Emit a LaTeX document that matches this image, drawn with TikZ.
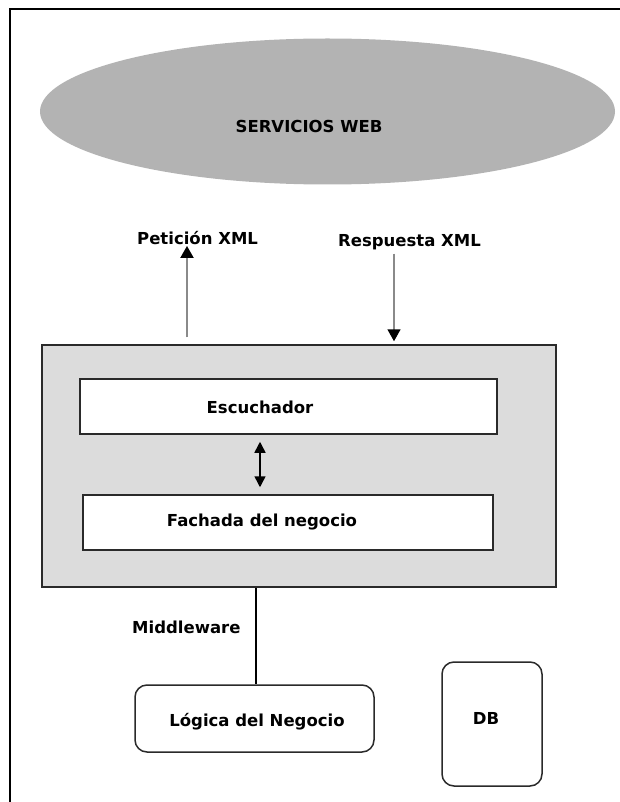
\documentclass[tikz,border=0pt]{standalone}
\usepackage{fontspec}
\setmainfont{DejaVu Sans}
\usetikzlibrary{shapes.geometric,arrows.meta}
\definecolor{ellgray}{HTML}{B3B3B3}
\definecolor{boxgray}{HTML}{DCDCDC}
\definecolor{edge}{HTML}{2A2A2A}
\definecolor{stem}{HTML}{8A8A8A}
\tikzset{
  lbl/.style={font=\fontsize{16.5}{19}\selectfont\bfseries, text=black, inner sep=0pt},
  plainbox/.style={draw=edge, line width=1.5pt, fill=white, inner sep=0pt},
  roundbox/.style={draw=edge, line width=1.5pt, fill=white, rounded corners=12pt, inner sep=0pt},
  headtip/.style={-{Triangle[width=13pt,length=12pt,color=black]}},
}
\begin{document}
\begin{tikzpicture}[x=1pt,y=-1pt]
\useasboundingbox (0,0) rectangle (620,802);
% frame
\draw[line width=2pt, black] (620,9) -- (10,9) -- (10,802);
% web services ellipse
\node[ellipse, fill=ellgray, draw=none, minimum width=575pt, minimum height=146pt, inner sep=0pt] (ws) at (327.5,111.5) {};
\node[lbl] (wst) at (309,126) {SERVICIOS WEB};
% middleware box
\node[draw=edge, line width=1.5pt, fill=boxgray, minimum width=514pt, minimum height=242pt, inner sep=0pt] (mw) at (299,466) {};
\node[plainbox, minimum width=417pt, minimum height=55pt] (esc) at (288.5,406.5) {};
\node[lbl] (esct) at (260,407) {Escuchador};
\node[plainbox, minimum width=410pt, minimum height=55pt] (fac) at (288,522.5) {};
\node[lbl] (fact) at (262,522) {Fachada del negocio};
% labels
\node[lbl, anchor=base west] (pet) at (137,244.5) {Petición XML};
\node[lbl, anchor=base west] (resp) at (338,246) {Respuesta XML};
\node[lbl, anchor=west] (mwt) at (132,627) {Middleware};
% logic and db
\node[roundbox, minimum width=239pt, minimum height=67pt] (log) at (254.5,718.5) {};
\node[lbl] (logt) at (257,722) {Lógica del Negocio};
\node[roundbox, minimum width=100pt, minimum height=124pt] (db) at (492,724) {};
\node[lbl] (dbt) at (486,718) {DB};
% connectors
\coordinate (ux) at (187,0);
\coordinate (dx) at (394,0);
\coordinate (bx) at (260,0);
\coordinate (lx) at (256,0);
\draw[draw=stem, line width=2pt, headtip, shorten <=7pt, shorten >=1pt]
  (mw.north -| ux) -- (pet.south -| ux);
\draw[draw=stem, line width=1.5pt, headtip, shorten <=4pt, shorten >=3pt]
  (resp.south -| dx) -- (mw.north -| dx);
\draw[black, line width=1.5pt, {Triangle[width=11pt,length=11pt]}-{Triangle[width=11pt,length=11pt]}, shorten <=7pt, shorten >=7pt]
  (esc.south -| bx) -- (fac.north -| bx);
\draw[black, line width=1.5pt] (mw.south -| lx) -- (log.north -| lx);
\end{tikzpicture}
\end{document}
